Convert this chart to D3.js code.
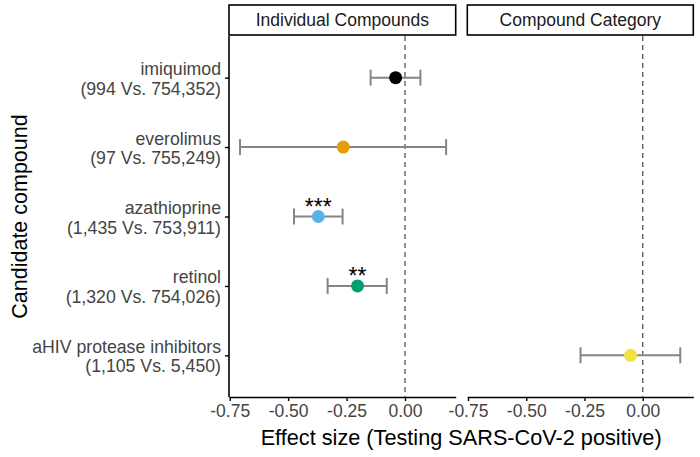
<!DOCTYPE html>
<html>
<head>
<meta charset="utf-8">
<script src="https://cdn.jsdelivr.net/npm/d3@7"></script>
<style>
  body { margin: 0; background: #fff; }
  svg { display: block; font-family: "Liberation Sans", Arial, sans-serif; }
</style>
</head>
<body>
<svg id="chart" width="700" height="457"></svg>
<script>
// ---- data ----
const compounds = ["imiquimod", "everolimus", "azathioprine", "retinol", "aHIV protease inhibitors"];
const counts = ["(994 Vs. 754,352)", "(97 Vs. 755,249)", "(1,435 Vs. 753,911)", "(1,320 Vs. 754,026)", "(1,105 Vs. 5,450)"];
const panelOf = ["Individual Compounds", "Individual Compounds", "Individual Compounds", "Individual Compounds", "Compound Category"];
const estimate = [-0.040, -0.264, -0.371, -0.203, -0.052];
const lower = [-0.147, -0.706, -0.475, -0.331, -0.267];
const upper = [0.066, 0.176, -0.267, -0.078, 0.161];
const signif = ["", "", "***", "**", ""];
const colors = ["#000000", "#E69F00", "#56B4E9", "#009E73", "#F0E442"];
const panels = ["Individual Compounds", "Compound Category"];
const xTicks = [-0.75, -0.50, -0.25, 0.00];
const xTitle = "Effect size (Testing SARS-CoV-2 positive)";
const yTitle = "Candidate compound";

const rows = compounds.map((c, i) => ({
  name: c, count: counts[i], panel: panelOf[i], est: estimate[i],
  lo: lower[i], hi: upper[i], sig: signif[i], color: colors[i]
}));

const svg = d3.select("#chart");
const yTop = 36, yBottom = 397;
const panelX = [[229, 455.7], [467.3, 693.3]];
const domainX = [-0.753, 0.217];
const fmt = d => d3.format(".2f")(d).replace("\u2212", "-");

const y = d3.scalePoint().domain(compounds).range([yTop, yBottom]).padding(0.6);

panels.forEach((p, pi) => {
  const [x0, x1] = panelX[pi];
  const x = d3.scaleLinear().domain(domainX).range([x0, x1]);
  const g = svg.append("g");

  // strip
  g.append("rect").attr("x", x0).attr("y", 5).attr("width", x1 - x0).attr("height", 30)
    .attr("fill", "#fff").attr("stroke", "#000").attr("stroke-width", 1.6);
  g.append("text").attr("x", (x0 + x1) / 2).attr("y", 20).attr("dy", "0.35em")
    .attr("text-anchor", "middle").attr("font-size", 17.5).attr("fill", "#1a1a1a").text(p);

  // zero reference line
  g.append("line").attr("x1", x(0)).attr("x2", x(0)).attr("y1", yTop).attr("y2", yBottom)
    .attr("stroke", "#555").attr("stroke-width", 1.3).attr("stroke-dasharray", "5,4");

  // x axis
  const ax = g.append("g").attr("transform", `translate(0,${yBottom})`)
    .call(d3.axisBottom(x).tickValues(xTicks).tickFormat(fmt).tickSize(4).tickSizeOuter(0));
  ax.select(".domain").attr("stroke", "#000").attr("stroke-width", 1.6);
  ax.selectAll(".tick line").attr("stroke", "#000").attr("stroke-width", 1.4);
  ax.selectAll(".tick text").attr("font-size", 17.5).attr("fill", "#444")
    .attr("font-family", "Liberation Sans, Arial, sans-serif").attr("y", 8);

  const data = rows.filter(r => r.panel === p);
  const cap = 8;
  data.forEach(r => {
    const yy = y(r.name);
    g.append("line").attr("x1", x(r.lo)).attr("x2", x(r.hi)).attr("y1", yy).attr("y2", yy)
      .attr("stroke", "#858585").attr("stroke-width", 2);
    [r.lo, r.hi].forEach(v => {
      g.append("line").attr("x1", x(v)).attr("x2", x(v)).attr("y1", yy - cap).attr("y2", yy + cap)
        .attr("stroke", "#858585").attr("stroke-width", 2);
    });
    g.append("circle").attr("cx", x(r.est)).attr("cy", yy).attr("r", 6.5).attr("fill", r.color);
    if (r.sig) {
      g.append("text").attr("x", x(r.est)).attr("y", yy - 2).attr("text-anchor", "middle")
        .attr("font-size", 23).attr("fill", "#000").text(r.sig);
    }
  });

  if (pi === 0) {
    // y axis
    const ay = g.append("g").attr("transform", `translate(${x0},0)`)
      .call(d3.axisLeft(y).tickSize(4).tickSizeOuter(0).tickFormat(""));
    ay.select(".domain").attr("stroke", "#000").attr("stroke-width", 1.6)
      .attr("d", `M0,${yTop}V${yBottom}`);
    ay.selectAll(".tick line").attr("stroke", "#000").attr("stroke-width", 1.4);
    ay.selectAll(".tick").each(function(d) {
      const r = rows.find(q => q.name === d);
      const t = d3.select(this).append("text").attr("text-anchor", "end")
        .attr("x", -8).attr("font-size", 17.7).attr("fill", "#444");
      t.append("tspan").attr("x", -8).attr("y", -3).text(r.name);
      t.append("tspan").attr("x", -8).attr("y", 16.5).text(r.count);
    });
  }
});

// titles
svg.append("text").attr("x", (panelX[0][0] + panelX[1][1]) / 2).attr("y", 445)
  .attr("text-anchor", "middle").attr("font-size", 21.7).attr("fill", "#000").text(xTitle);
svg.append("text").attr("transform", `translate(27,${(yTop + yBottom) / 2}) rotate(-90)`)
  .attr("text-anchor", "middle").attr("font-size", 21.5).attr("fill", "#000").text(yTitle);
</script>
</body>
</html>
